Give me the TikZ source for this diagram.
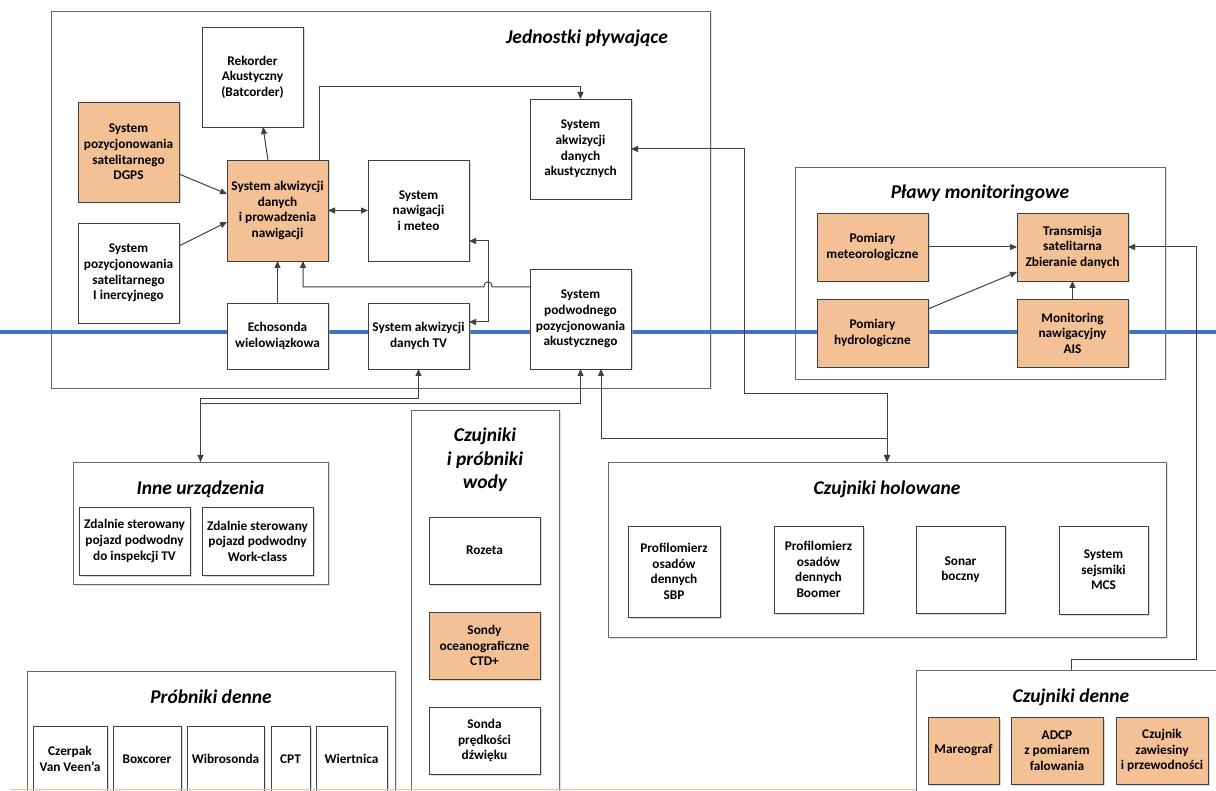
\documentclass[tikz,border=0pt]{standalone}
\usepackage{fontspec}
\setmainfont{Carlito}
\usetikzlibrary{arrows.meta,shadows}
\definecolor{peach}{RGB}{244,192,150}
\definecolor{wire}{RGB}{64,64,64}
\definecolor{frameline}{RGB}{105,105,105}
\definecolor{sea}{RGB}{68,114,196}
\newcommand{\boxfont}{\bfseries\fontsize{13.3}{15.6}\selectfont}
\newcommand{\headfont}{\bfseries\itshape\fontsize{19.5}{23.5}\selectfont}
\begin{document}
\begin{tikzpicture}[x=1pt, y=-1pt,
        unit/.style={draw=wire, fill=white, line width=0.9pt, align=center, font=\boxfont,
            inner sep=0pt, outer sep=0pt,
            drop shadow={shadow xshift=1.5pt, shadow yshift=-1.5pt, fill=black!30}},
        hot/.style={unit, fill=peach},
        grp/.style={draw=frameline, fill=white, line width=0.9pt, inner sep=0pt, outer sep=0pt,
            drop shadow={shadow xshift=1.5pt, shadow yshift=-1.5pt, fill=black!25}},
        grptitle/.style={font=\headfont, align=center},
        link/.style={draw=wire, line width=1pt, -{Triangle[length=7pt,width=6pt]}},
        twoway/.style={link, {Triangle[length=7pt,width=6pt]}-{Triangle[length=7pt,width=6pt]}}]
        \useasboundingbox (0,0) rectangle (1216,791);
        \fill[white] (0,0) rectangle (1216,791);

        % ramki grup
        \node[grp, minimum width=659pt, minimum height=377pt] (jednostki) at (380.5,199.5) {};
        \node[grp, minimum width=370pt, minimum height=212pt] (plawy) at (980,273) {};
        \node[grp, minimum width=558pt, minimum height=175pt] (holow) at (887,549.5) {};
        \node[grp, minimum width=255pt, minimum height=122pt] (inne) at (200.5,523) {};
        \node[grp, minimum width=148pt, minimum height=400pt] (wody) at (485,610) {};
        \node[grp, minimum width=368pt, minimum height=139pt] (probniki) at (211,740.5) {};
        \node[grp, minimum width=310pt, minimum height=140pt] (denne) at (1071,740) {};

        \node[grptitle] (tjednostki) at (587,38) {Jednostki pływające};
        \node[grptitle] (tplawy) at (980,193) {Pławy monitoringowe};
        \node[grptitle] (tholow) at (887,489) {Czujniki holowane};
        \node[grptitle] (tinne) at (200.5,489) {Inne urządzenia};
        \node[grptitle] (twody) at (485,460) {Czujniki\\i próbniki\\wody};
        \node[grptitle] (tprobniki) at (211,697) {Próbniki denne};
        \node[grptitle] (tdenne) at (1071,697) {Czujniki denne};

        % linia wody
        \draw[sea, line width=3.5pt] (0,332) -- (1216,332);

        \node[unit, minimum width=101pt, minimum height=100pt] (rekorder) at (252.5,77) {Rekorder\\Akustyczny\\(Batcorder)};
        \node[hot,  minimum width=101pt, minimum height=100pt] (dgps) at (128.5,152) {System\\pozycjonowania\\satelitarnego\\DGPS};
        \node[unit, minimum width=101pt, minimum height=100pt] (inercja) at (128.5,273) {System\\pozycjonowania\\satelitarnego\\I inercyjnego};
        \node[hot,  minimum width=101pt, minimum height=101pt] (nawi) at (277.5,210.5) {System akwizycji\\danych\\i prowadzenia\\nawigacji};
        \node[unit, minimum width=101pt, minimum height=101pt] (meteo) at (418.5,210.5) {System\\nawigacji\\i meteo};
        \node[unit, minimum width=101pt, minimum height=100pt] (akust) at (580.5,149) {System\\akwizycji\\danych\\akustycznych};
        \node[unit, minimum width=101pt, minimum height=66pt] (echo) at (277.5,336) {Echosonda\\wielowiązkowa};
        \node[unit, minimum width=101pt, minimum height=66pt] (tv) at (418.5,336) {System akwizycji\\danych TV};
        \node[unit, minimum width=101pt, minimum height=100pt] (podw) at (580.5,319) {System\\podwodnego\\pozycjonowania\\akustycznego};

        \node[hot, minimum width=111pt, minimum height=68pt] (pmeteo) at (872.5,247) {Pomiary\\meteorologiczne};
        \node[hot, minimum width=111pt, minimum height=68pt] (trans) at (1072.5,247) {Transmisja\\satelitarna\\Zbieranie danych};
        \node[hot, minimum width=111pt, minimum height=68pt] (phydro) at (872.5,333) {Pomiary\\hydrologiczne};
        \node[hot, minimum width=111pt, minimum height=68pt] (ais) at (1072.5,333) {Monitoring\\nawigacyjny\\AIS};

        \node[unit, minimum width=92pt, minimum height=91pt] (sbp) at (674,571.5) {Profilomierz\\osadów\\dennych\\SBP};
        \node[unit, minimum width=89pt, minimum height=87pt] (boomer) at (818.5,569.5) {Profilomierz\\osadów\\dennych\\Boomer};
        \node[unit, minimum width=89pt, minimum height=87pt] (sonar) at (960.5,569.5) {Sonar\\boczny};
        \node[unit, minimum width=89pt, minimum height=88pt] (mcs) at (1103.5,570) {System\\sejsmiki\\MCS};

        \node[unit, minimum width=111pt, minimum height=68pt] (rovtv) at (134.5,541) {Zdalnie sterowany\\pojazd podwodny\\do inspekcji TV};
        \node[unit, minimum width=111pt, minimum height=68pt] (rovwc) at (257.5,541) {Zdalnie sterowany\\pojazd podwodny\\Work-class};

        \node[unit, minimum width=111pt, minimum height=67pt] (rozeta) at (484.5,550.5) {Rozeta};
        \node[hot,  minimum width=111pt, minimum height=67pt] (ctd) at (484.5,645.5) {Sondy\\oceanograficzne\\CTD+};
        \node[unit, minimum width=111pt, minimum height=67pt] (sonda) at (484.5,740.5) {Sonda\\prędkości\\dźwięku};

        \node[unit, minimum width=74pt, minimum height=66pt] (czerpak) at (70,759) {Czerpak\\Van Veen’a};
        \node[unit, minimum width=68pt, minimum height=66pt] (boxcorer) at (147,759) {Boxcorer};
        \node[unit, minimum width=77pt, minimum height=66pt] (wibro) at (225.5,759) {Wibrosonda};
        \node[unit, minimum width=39pt, minimum height=66pt] (cpt) at (290.5,759) {CPT};
        \node[unit, minimum width=71pt, minimum height=66pt] (wiert) at (351.5,759) {Wiertnica};

        \node[hot, minimum width=71pt, minimum height=67pt] (mareo) at (963.5,750.5) {Mareograf};
        \node[hot, minimum width=92pt, minimum height=67pt] (adcp) at (1057,750.5) {ADCP\\z pomiarem\\falowania};
        \node[hot, minimum width=92pt, minimum height=67pt] (zawies) at (1162,750.5) {Czujnik\\zawiesiny\\i przewodności};

        % polaczenia
        \coordinate (hop) at (488,287);
        \draw[link] ([yshift=-22pt]dgps.east) -- ([yshift=16.5pt]nawi.west);
        \draw[link] ([yshift=27pt]inercja.east) -- ([yshift=-11.5pt]nawi.west);
        \draw[link] ([xshift=-9.5pt]nawi.north) -- ([xshift=10.5pt]rekorder.south);
        \draw[link] ([xshift=41.5pt]nawi.north) -- ++(0,-73) -| (akust.north);
        \draw[twoway] (nawi.east) -- (meteo.west);
        \draw[link] (echo.north) -- (nawi.south);
        \draw[link] ([yshift=32pt]podw.west) -- ([xshift=4pt]hop)
            .. controls ([xshift=4pt,yshift=7pt]hop) and ([xshift=-4pt,yshift=7pt]hop) .. ([xshift=-4pt]hop)
            -| ([xshift=25.5pt]nawi.south);
        \draw[twoway] ([yshift=-30.5pt]meteo.east) -- ++(19.5,0) |- ([yshift=14pt]tv.east);
        \draw[twoway] (tv.south) -- ++(0,30) -| (inne.north);
        \draw[link] (inne.north) -- ++(0,-58) -| (podw.south);
        \draw[twoway] ([xshift=20.5pt]podw.south) -- ++(0,70) -| (holow.north);
        \draw[twoway] (akust.east) -- ++(113,0) -- ++(0,245) -| (holow.north);

        \draw[link] (pmeteo.east) -- (trans.west);
        \draw[link] ([yshift=24pt]phydro.east) -- ([yshift=-25pt]trans.west);
        \draw[link] (ais.north) -- (trans.south);
        \draw[link] (denne.north) -- ++(0,-11) -- ++(125,0) |- (trans.east);

        \draw[peach, line width=1.5pt] (10,789.5) -- (916,789.5);
\end{tikzpicture}
\end{document}
